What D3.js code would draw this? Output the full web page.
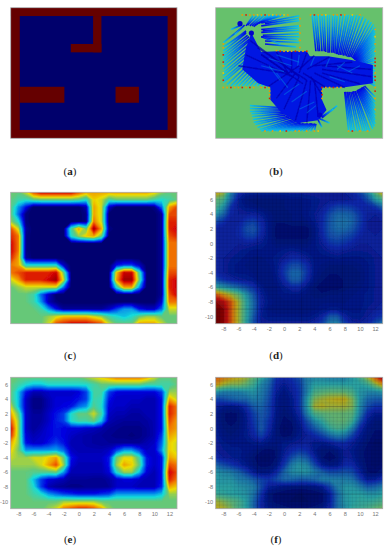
<!DOCTYPE html>
<html>
<head>
<meta charset="utf-8">
<script src="https://cdn.jsdelivr.net/npm/d3@7"></script>
<style>
body { margin: 0; background: #fff; }
svg { display: block; }
</style>
</head>
<body>
<script>
//tick labels of the axes under (d), (e), (f)
var xTicks = [-8, -6, -4, -2, 0, 2, 4, 6, 8, 10, 12];
var yTicks = [6, 4, 2, 0, -2, -4, -6, -8, -10];

//walls of the map in (a): x0, x1, y0, y1 in map units
var walls = [
    [-9, -7.8, -11, 7], [11.76, 13, -11, 7], [-9, 13, 5.85, 7], [-9, 13, -11, -9.85],
    [1.9, 3, 0.85, 5.85], [-1.05, 3, 0.85, 2],
    [-7.8, -1.9, -6.1, -3.9], [4.87, 7.96, -6.1, -3.9]
];

//(b) rays, outer end to inner end: x0, y0, x1, y1
var raysUpperLeft = [
    [2, 5.9, -3, 4.9], [2, 5.5, -2.5, 4.8], [2, 5.2, -3, 4.5], [2, 4.5, -3, 4], [2, 4.2, -2.8, 3.8], [2, 3.9, -3, 3.6], [2, 3.4, -2.8, 3.2], [2, 3, -3, 3], [1.8, 2.6, -2.5, 2.8], [2, 2.2, -2.5, 2.4], [1.6, 1.6, -2.5, 2], [-0.5, 2, -3, 3],
    [-4, 6, -5, 4.5], [-3.5, 6, -4.8, 4.6], [-3, 6, -4.5, 4.5], [-2.5, 6, -4.2, 4.5], [-2, 6, -4, 4.4], [-1.5, 6, -3.8, 4.6], [-1, 6, -3.6, 4.8], [-0.5, 6, -3.3, 4.9], [0, 6, -3, 5],
    [-8, 2.2, -5.6, 4.2], [-7.6, 1.8, -5, 3.8], [-8, 1.6, -5, 3.6], [-8, 1, -5, 3.5], [-8, 0.6, -4.8, 3.2], [-8, 0.2, -4.6, 3], [-8, -0.2, -4.5, 2.7], [-8, -0.6, -4.5, 2.5], [-8, -1, -4.2, 2.3], [-8, -1.5, -4, 2], [-8, -2, -3.8, 1.7], [-8, -2.4, -3.6, 1.5], [-8, -2.9, -3.4, 1.2], [-8, -3.3, -3.2, 1],
    [-7.5, -3.6, -3.1, 0.7], [-7, -3.8, -3, 0.5], [-6.5, -3.8, -2.8, 0.2], [-6, -3.8, -2.5, 0], [-5.5, -3.8, -2.3, -0.2], [-5, -3.8, -2, -0.5], [-4.5, -3.8, -1.8, -0.7], [-4, -3.8, -1.5, -1], [-3.5, -3.8, -1.2, -1.2], [-3, -3.8, -1, -1.5], [-2.5, -3.8, -0.8, -1.5], [-2, -3.8, -0.5, -1.5],
    [-6.5, 3.3, -5.2, 4.6], [-7, 4, -5.6, 4.6]
];
var raysUpperRight = [
    [3.7, 6, 4.2, 1], [4, 6, 4.5, 1], [4.3, 6, 4.7, 1], [4.7, 6, 5, 1], [5, 6, 5.3, 1], [5.3, 6, 5.5, 0.9], [5.7, 6, 5.8, 0.8], [6, 6, 6, 0.8], [6.4, 6, 6.3, 0.8], [6.7, 6, 6.5, 0.8], [7, 6, 6.7, 0.7], [7.4, 6, 6.9, 0.6], [7.8, 6, 7, 0.6], [8.2, 6, 7.2, 0.5], [8.5, 6, 7.4, 0.5], [8.9, 6, 7.6, 0.5], [9.2, 6, 7.8, 0.4], [9.6, 6, 8, 0.4], [10, 6, 8.2, 0.3],
    [10.4, 5.8, 8.4, 0.2], [10.8, 5.5, 8.6, 0.2], [11.2, 5.3, 8.8, 0.2], [11.5, 5, 9, 0.1], [11.8, 4.7, 9.1, 0], [12, 4.3, 9.2, 0], [12, 3.9, 9.2, -0.1], [12, 3.5, 9.3, -0.2], [12, 3.1, 9.4, -0.2], [12, 2.7, 9.5, -0.3], [12, 2.3, 9.5, -0.4], [12, 2, 9.5, -0.5], [12, 1.6, 9.6, -0.6], [12, 1.2, 9.6, -0.7], [12, 0.8, 9.6, -0.8], [12, 0.5, 9.7, -0.9],
    [12, 0.1, 9.7, -1], [12, -0.2, 9.7, -1.1], [12, -0.6, 9.7, -1.2], [12, -1, 9.8, -1.4], [12, -1.3, 9.8, -1.5], [12, -1.7, 9.8, -1.7], [12, -2, 9.9, -1.8], [12, -2.4, 10, -2], [12, -2.8, 10, -2.1], [12, -3.1, 10, -2.3], [12, -3.4, 10, -2.4], [12, -3.8, 10, -2.6]
];
var raysLowerRight = [
    [8.5, -10, 8, -4.6], [8.8, -10, 8.1, -4.6], [9, -10, 8.3, -4.6], [9.3, -10, 8.4, -4.6], [9.7, -10, 8.6, -4.6], [10, -10, 8.8, -4.6], [10.4, -10, 9, -4.6], [10.7, -10, 9.1, -4.5], [11, -10, 9.3, -4.5], [11.3, -10, 9.4, -4.5], [11.7, -9.7, 9.6, -4.4], [11.9, -9.4, 9.7, -4.3], [12, -9, 9.8, -4.3], [12, -8.5, 9.9, -4.2], [12, -8, 10, -4.2], [12, -7.5, 10.1, -4.1], [12, -7, 10.2, -4], [12, -6.5, 10.3, -4], [12, -6, 10.4, -3.9], [12, -5.3, 10.6, -3.8]
];
var raysBottom = [
    [-4.5, -6.5, 0, -6.8], [-4.5, -6.9, 0, -7], [-4.5, -7.3, 0, -7.2], [-4.3, -7.6, 0, -7.4], [-4.2, -8, 0, -7.6], [-4.1, -8.4, 0.2, -7.8], [-4, -8.8, 0.5, -8], [-3.8, -9.1, 0.7, -8.1], [-3.5, -9.5, 1, -8.2], [-3.2, -9.8, 1.2, -8.4], [-3, -10, 1.5, -8.5], [-2.5, -10, 1.8, -8.6], [-2, -10, 2, -8.8], [-1.5, -10, 2.2, -8.9], [-1, -10, 2.5, -9], [-0.5, -10, 2.7, -9], [0, -10, 3, -9], [0.5, -10, 3.2, -9], [1, -10, 3.5, -9], [1.5, -10, 3.6, -9],
    [2, -10, 3.7, -9], [2.5, -10, 3.8, -9], [3, -10, 4, -9], [3.5, -10, 4.1, -9], [4, -10, 4.2, -9], [5, -9.5, 4.5, -8.5], [6, -8.9, 4.5, -8.2], [7, -6.5, 5, -8.2], [6.5, -7, 5, -8]
];
var raysCore = [
    [-4.5, 2.5, 2, -2.5], [-3.5, 1.5, 3, -3], [-3, 0.5, 2.5, -3.5], [-5, 0.5, 1, -2.5], [-6, -1, 0, -2], [-2, -3.8, 2, -1], [-1, -5.5, 1.5, -2], [0, -7, 2, -2.5],
    [1.5, -8.5, 3, -3], [3, -8.8, 3.5, -3], [4.5, -8, 4, -3], [5, -5, 3.5, -2.5], [5.5, -4, 2.5, -2], [8, -4, 4, -2], [10, -3.5, 5, -2], [11.5, -2.5, 5, -1.5],
    [11.5, -1.5, 5, -1], [9, -0.5, 4, -1], [6, 0.2, 3, -1.5], [4, 0.4, 2, -1.5], [3, 0.8, 2, -2], [1, 0.9, 1, -2], [-1, 0.9, 0.5, -2], [-3, 0.6, 0.5, -2]
];
var raysCoreLight = [
    [-3, -1, 0, -1.8], [-2, 0, 1, -1], [-1, 0.5, 2, -0.5], [0, -5, 2, -3.5], [1, -6, 3, -4.5], [2, -7, 4, -6], [3, -7.5, 4.2, -6.5], [7, -1, 9, -2],
    [-1, -2, 0.5, -4], [-2, -1, -0.5, -3], [2, 0.5, 1.8, -1], [4, 0.2, 3.5, -1], [6, 0, 5.5, -1.2], [8, -0.5, 7, -1.5], [10, -1, 8.5, -1.8], [6, -2.5, 8, -3.2]
];
//(b) outline of the dense blue middle
var coreOutline = [
    [-4.3, 3.5], [-3, 0.9], [-1, 1], [3, 1], [3.4, 0.3], [5.8, 0.3], [8.9, -0.2], [11.7, -0.9], [11.7, -3.4], [7.8, -4], [5, -4], [5, -5.7], [5.6, -7.1], [4.5, -8.5], [1.9, -8.9],
    [-0.3, -7.5], [-1.8, -5.7], [-1.8, -4], [-3.4, -3.4], [-5.5, -1.5], [-5, 1.5]
];
var darkSpots = [[-5.8, 4.8], [-4.3, 3.5], [4.7, -7.8]];
//(b) boundary cells: x, y, value
var boundaryCells = [
    [-5.5, 6, 7], [-5, 6, 8.5], [-4.5, 6, 7], [-4, 6, 7], [-3.5, 6, 6.5], [-3, 6, 7], [-2.5, 6, 8.5], [-2, 6, 7], [-1.5, 6, 6.5], [-1, 6, 7], [-0.5, 6, 7], [0, 6, 6.5], [0.5, 6, 7],
    [3.5, 6, 7], [4, 6, 8.5], [4.5, 6, 7], [5, 6, 7], [5.5, 6, 6.5], [6.5, 6, 7], [7, 6, 7], [7.5, 6, 8.5], [8, 6, 7], [9, 6, 6.5], [10, 6, 7],
    [2.1, 5.5, 7], [2.1, 4.5, 7], [2.1, 3.5, 7], [2.1, 2.5, 7], [2.1, 1.5, 7],
    [-1, 1.1, 7], [-0.5, 1, 8.5], [0, 1, 7], [0.5, 1, 6.5], [1, 1, 7], [1.5, 1, 8.5], [2, 1, 7], [2.5, 1, 7], [3, 1, 8.5],
    [-8, 2, 7], [-8, 1.5, 7], [-8, 0.5, 8.5], [-8, -0.5, 8.5], [-8, -1, 7], [-8, -2, 6.5], [-8, -3, 8.5],
    [-8, -4, 7], [-7.5, -4, 7], [-7, -4, 8.5], [-6.5, -4, 7], [-6, -4, 7], [-5.5, -4, 8.5], [-5, -4, 7], [-4.5, -4, 8.5], [-4, -4, 7], [-3, -4, 7], [-2.5, -4, 8.5], [-2, -4, 7],
    [-1.9, -4.5, 7], [-1.9, -5, 7], [-1.9, -5.5, 8.5],
    [5, -4, 8.5], [5.5, -4, 7], [6, -4, 7], [6.5, -4, 8.5], [7, -4, 7], [7.5, -4, 7], [5, -4.5, 7], [5, -5, 8.5], [5, -5.5, 7],
    [12, 4, 7], [12, 3, 6.5], [12, 2, 7], [12, 1, 7], [12, 0, 8.5], [12, -0.5, 8.5], [12, -1, 8.5], [12, -2, 7], [12, -2.5, 8.5], [12, -3, 8.5], [12, -4, 7], [12, -4.5, 8.5], [12, -5.5, 7], [12, -7, 7],
    [-2.5, -10, 7], [-1.5, -10, 7], [-0.5, -10, 6.5], [0.3, -10, 8.5], [1.5, -10, 7], [2, -10, 7], [3, -10, 7], [4, -10, 7], [4.5, -10, 6.5], [8.5, -10, 7], [9, -10, 8.5], [10, -10, 7], [11, -10, 7]
];

//heat values on a grid of 23 columns (x -9 to 13) and 19 rows (y 7 to -11), 0 is navy and 10 maroon
var heatC = [
    [5,5,6,8,9,9,9,9,9,8,7,7,7,7,7,7,7,7,7,6.5,5.5,5,5],
    [5,4.5,4.2,4.8,5,5,5,5,5,4.8,4,6.5,6,4.5,5,5,5,5,5,4.5,4,4.5,5],
    [5,3,1.5,0,0,0,0,0,0,0,.8,7,6,1,0,0,0,0,0,.3,2.5,7,8],
    [5,2.5,.2,0,0,0,0,0,0,0,.3,7,6,0,0,0,0,0,0,0,.5,8,8],
    [5.5,4,.2,0,0,0,0,0,0,0,.3,7.5,6,0,0,0,0,0,0,0,.5,8.5,8.5],
    [8,6,.5,0,0,0,0,0,4.5,7,5,9.5,7,.3,0,0,0,0,0,0,.5,8.5,9],
    [8.5,7.5,.3,0,0,0,0,0,4,5.5,6.5,7,5,0,0,0,0,0,0,0,.5,8,8.5],
    [9,7.5,.3,0,0,0,0,0,0,0,0,0,0,0,0,0,0,0,0,0,.5,7.5,7.5],
    [9,7.5,.3,0,0,0,0,0,0,0,0,0,0,0,0,0,0,0,0,0,.5,7.5,7.5],
    [8.5,7,.5,0,0,0,0,0,0,0,0,0,0,0,0,0,0,0,0,0,.5,7.5,7.5],
    [7.5,7,4,4,4,4,4,1,0,0,0,0,0,0,1.5,2,2,1,0,0,.5,7.5,7.5],
    [7.5,8,8.5,8.5,8.5,8.5,9,5,0,0,0,0,0,0,6.5,9,9,4.5,0,0,.5,8,8],
    [6,7,8.5,8.5,8.5,9,9.5,6,0,0,0,0,0,0,7,9.5,9.5,5,0,0,.5,8.5,9],
    [5,5.5,6,6,6,6,6,2.5,0,0,0,0,0,0,4,7,7,3,0,0,.5,8.5,9],
    [5,5,5,4.5,2.5,1,0,0,0,0,0,0,0,0,0,0,0,0,0,0,.5,8,9],
    [5,5,5,4.5,3,.8,.2,0,0,0,0,0,0,0,0,0,0,0,0,0,1.2,7.5,7.5],
    [5,5,5,5,4.5,3,1.5,.5,.5,.5,.5,.5,.5,1,2,3,3,1.5,1,1,2.5,6,6],
    [5,5,5,5,5,5.5,6,6.5,6.5,6.5,6.5,6,5.5,4.5,4,3.5,4,5,5.5,5.5,5,5,5],
    [5,5,5,5,5,6,8,8.5,9,9,9,8.5,8,6,5,5,5,7,7,7,6,5,5]
];
var heatD = [
    [7,6,3,1.5,1,.9,.9,.9,.9,.9,1,1,1,1,1,1,1,1,1.2,1.8,3,5,7],
    [5,4.5,2.5,.9,.5,.4,.4,.4,.4,.5,.6,.6,.7,.8,.9,.9,.9,.9,1,1.3,2,3.5,4.5],
    [4.5,3.5,1.5,.9,.7,.6,.5,.4,.4,.5,.6,.6,.7,.8,1,1.4,1.8,1.8,1.6,1.3,1.2,1.5,2.5],
    [3.5,2.5,1.2,1,1,1.1,.9,.6,.4,.4,.5,.6,.7,.9,1.2,2,2.5,2.5,2.3,1.6,1.1,1,1.2],
    [2,1.5,1,1.1,1.6,1.8,1.3,.7,.4,.4,.5,.5,.6,.8,1.3,2.2,2.7,2.8,2.5,1.7,1,.9,1],
    [1,1,1,1.2,2,2.2,1.4,.7,.3,.3,.3,.3,.3,.6,1.3,2.2,2.6,2.6,2.2,1.5,1,.9,1],
    [1,1,1,1.2,1.7,1.8,1.2,.7,.3,.3,.3,.3,.3,.6,1.2,2,2.2,2,1.7,1.2,1,1,1],
    [1,1,1,1,1.1,1,.9,.7,.5,.5,.5,.5,.5,.7,1,1.5,1.7,1.5,1.2,1,1,1,1],
    [1,1,1,.9,.8,.7,.7,.7,.7,.8,.9,.8,.7,.7,.8,1,1.1,1,.9,.9,.9,1,1],
    [1,1,.9,.8,.7,.6,.6,.7,.8,1,1.3,1.3,1,.7,.7,.7,.8,.7,.7,.7,.8,.9,1],
    [1,1,.8,.7,.6,.6,.5,.6,.8,1.4,2,2,1.4,.7,.6,.5,.5,.5,.5,.6,.7,.9,1],
    [1.2,1,.8,.7,.7,.6,.5,.5,.8,1.6,2.5,2.5,1.6,.7,.5,.4,.4,.4,.4,.5,.7,.9,1],
    [2,1.5,1.2,1,.9,.8,.5,.5,.7,1.3,2.3,2.3,1.3,.6,.4,.3,.3,.4,.4,.5,.7,.9,1],
    [4,3.5,3,2.5,2,1.5,.8,.5,.6,.9,1.3,1.3,.8,.4,.3,.3,.3,.4,.5,.6,.7,.9,1],
    [8,7,6,5,3.5,2.2,1,.6,.6,.7,.7,.7,.6,.4,.4,.5,.5,.6,.6,.7,.8,.9,1],
    [9.5,9,8,6,4,2.5,1.1,.7,.6,.6,.6,.6,.6,.6,.6,.6,.6,.6,.7,.7,.8,.9,1],
    [10,9.5,8,6,4,2.5,1,.6,.5,.5,.5,.5,.5,.6,.7,.8,.8,.7,.7,.7,.9,1,1.2],
    [10,9.5,8,6,4,2.2,.9,.7,.7,.7,.7,.7,.7,.8,1.2,2.2,2.2,1.2,.8,.8,1,1.3,1.6],
    [10,9.5,8,6,3.8,2,1,1,1,1,1,1,1,1.2,1.8,3,3.2,1.8,1.1,1,1.2,2,3]
];
var heatE = [
    [5,5,5,5,5,5,5,5,5,5,5.5,6,6.5,7,7.5,7.5,7.5,7.5,7,6,5,5,5],
    [5,4.5,4,3.5,3.5,4,4,4,4,4,4,4.5,5,5,5,5,5,5,4.5,4.5,4.5,4.5,5],
    [5,3.5,1.5,.8,.8,1,1,1,1,1.2,2,4.5,4.5,2,1.3,1.2,1.2,1.2,1.2,1.2,2,5.5,5.5],
    [5,3.5,1,.3,.3,.8,1.2,1.2,1.2,1.5,2,4.5,4.2,1.5,1,1,1,1,.8,.8,1.5,7,6],
    [6,3.5,1,.3,.3,.8,1.2,1.3,1.5,2.5,3,4.8,4,1.2,1,1,.8,.8,.8,.8,1.5,8.5,7.5],
    [7,5,1,.5,.5,1,1.5,2,4,5,5,6,4.5,1,.8,.8,.6,.6,.8,.8,1.5,8.5,7.5],
    [8,5.5,1,.5,.6,1,1.6,2,4,4.5,4.5,5,3.5,.8,.6,.5,.5,.5,.6,.8,1.5,8,7],
    [9,5.5,1,.5,.8,1.2,1.5,1.3,1.2,1.2,1,.9,.7,.5,.4,.3,.3,.3,.5,.8,1.5,7.5,7],
    [8.5,5.5,1.2,.8,1,1.2,1.5,1.3,1,.8,.7,.6,.5,.4,.3,.3,.2,.3,.5,.8,2,7,6.5],
    [7,5.5,1.5,1,1,1.5,2,1.5,.8,.8,.7,.6,.5,.5,.5,.5,.5,.5,.8,1,2.5,6.5,6],
    [6.5,5.2,3,3,3,3,3.2,2.5,1,.8,.8,.8,.8,1,2,3,3,2,1,1,3,6.5,6],
    [6,5.5,5.5,6,6,6.5,7,5,1.5,1,1,1,1,1.5,5,6.2,6.2,4.5,1.5,1,1.5,7,6.5],
    [5.5,5.5,5.5,5.5,6,7,8,5.5,1.2,.8,.8,.8,.8,1.5,5.5,7,6.5,5,1.5,1,1.5,8,7.5],
    [5,5,5,4.8,4.8,4.8,5,3,.8,.8,.8,.8,.8,1.2,4,5.5,5.5,3.5,1.2,.8,1.5,9,8],
    [5,5,5,3.5,2,1.2,1,.8,.5,.5,.5,.4,.4,.6,1,1.2,1.2,1,.8,.8,1.5,8.5,7.5],
    [5,5,5,4,2,.8,.5,.4,.3,.3,.4,.4,.4,.5,1,1,1,.8,.8,.8,1.8,7,6.5],
    [5,5,5,4.5,4,3,2.5,2,1.8,1.5,1.5,1.5,1.8,2,3,3,3,3,3,3,3.5,5.5,5.5],
    [5,5,5,5,5,5,5,5.5,5.5,5.5,5.5,5.5,5,5,5,5,5,5,5,5,5,5,5],
    [5,5,5,5,5,5.5,6,7.5,8,8.5,8.5,8,7,5.5,5,5,5,5,5,5,5,5,5]
];
var heatF = [
    [8,7.5,7,6.5,6,5,4,3,1.5,1.2,1.5,2,3,3.2,3.2,3,3,3,3.5,4.5,6,8,9.5],
    [7,6,5.5,5.5,5,4.3,3.2,2.5,1.2,.9,1.2,1.7,3,3.8,3.8,3.8,3.8,3.8,3.8,3.8,4.2,5.5,7],
    [3.5,3,3,3,3.3,3.5,3,2.2,1,.6,1,1.5,3,4.5,4.8,5,5,5,4.5,3.5,3.2,3.2,3.5],
    [1.8,2,2.3,2.5,2.5,3,2.8,2,.8,.5,.8,1.5,3.5,5.5,6,6.3,6.5,6.5,5.5,3.5,2.5,2.3,2.3],
    [1,.8,.7,.8,1.4,2.3,2.5,1.8,.8,.5,.8,1.5,3.5,6,6.3,6,6,6,5.5,3.3,2,1.5,1.5],
    [.7,.4,.3,.4,.9,1.8,2.3,1.8,.7,.4,.6,1.2,3,4.5,4.8,5,5,5,4.8,3,1.3,.8,.8],
    [.7,.4,.3,.4,.8,1.6,2.2,1.5,.6,.3,.4,.9,2,3.2,4,4.8,5,5,4.3,2.2,.9,.5,.5],
    [.8,.5,.4,.5,.8,1.4,2.3,1.3,.5,.2,.3,.7,1.5,2.2,3,4,4.5,4.3,3,1.3,.6,.4,.4],
    [.9,.6,.5,.6,.8,1.2,1.8,1,.5,.3,.4,.8,1,1.3,1.8,2.5,3,2.8,1.8,.9,.5,.3,.3],
    [1,.8,.7,.7,.7,.8,.9,.7,.6,.8,.9,1,1.1,.8,.8,1,1.3,1.4,1,.7,.4,.2,.2],
    [1,.9,.8,.8,.7,.6,.4,.3,.4,.9,1.3,1.6,1.4,.8,.4,.4,.6,1,.8,.5,.3,.2,.2],
    [1.3,1,.9,.8,.6,.4,.2,.2,.4,1.1,2,2.6,2.2,1.2,.4,.2,.4,1,.9,.5,.3,.2,.2],
    [2.5,2,1.6,1.2,.8,.5,.3,.3,.6,1.6,3,3.5,3.2,2,.9,.6,.7,1.3,1.3,.7,.3,.2,.3],
    [3.5,3.2,3,2.5,1.8,1,.6,.7,1.3,2.5,3.3,3.5,3.5,3,2.5,2,2,2.2,2,1.1,.4,.3,.6],
    [3.5,3.5,3.5,3,2.8,2.3,1.8,1.5,2,2.5,2.5,2.3,2.3,2.5,3,3,3,3,2.8,1.8,.9,1,1.5],
    [3.8,3.8,3.8,3.5,3.3,3,2,1,.8,.6,.5,.5,.5,.6,.9,1.8,3,3.5,3.5,3,2.3,2.5,3],
    [4.2,4,3.8,3.7,3.5,2.8,1.5,.5,.3,.2,.2,.1,.2,.2,.3,1,2.5,3.5,3.8,3.8,3.5,3.5,3.8],
    [6,5.5,5,4.5,3.8,2.5,1.2,.5,.3,.2,.1,.1,.1,.2,.3,1,2.6,3.5,3.8,4,4,4.2,4.5],
    [6.5,6.2,5.5,4.5,3.8,2.5,1.2,.7,.6,.5,.4,.4,.4,.5,.7,1.2,2.6,3.3,4,4.2,4.5,5,5.5]
];

var jetStops = [0, 1.25, 2.5, 3.75, 5, 6.25, 7.5, 8.75, 10];
//jet colours, a bit muted like the print
var jet = d3.scaleLinear()
    .domain(jetStops)
    .range(["#000070", "#0000e0", "#0070ee", "#14dcdc", "#66c878", "#ecdc00", "#f07000", "#d80808", "#6e0000"]);
//(d) and (f) print darker and greyer under their mesh
var jetDull = d3.scaleLinear()
    .domain(jetStops)
    .range(["#000a60", "#0a28a8", "#1a68a8", "#2aa0a0", "#60b070", "#b0a820", "#d07010", "#b81010", "#600000"]);

var leftCol = [10.7, 177], rightCol = [215.7, 382.7];
var row1 = [7.7, 138.3], row2 = [192.3, 323.7], row3 = [377.3, 508.7];

var svg = d3.select("body").append("svg")
    .attr("width", 390)
    .attr("height", 550);
var defs = svg.append("defs");
defs.append("filter").attr("id", "soft").attr("x", "-5%").attr("y", "-5%").attr("width", "110%").attr("height", "110%")
    .append("feGaussianBlur").attr("stdDeviation", 0.7);
defs.append("filter").attr("id", "softer")
    .append("feGaussianBlur").attr("stdDeviation", 0.45);

//sets up one panel: scales, clip, group
function makePanel(name, xr, yr) {
    var x = d3.scaleLinear().domain([-9, 13]).range(xr);
    var y = d3.scaleLinear().domain([7, -11]).range(yr);
    defs.append("clipPath").attr("id", "clip" + name)
        .append("rect").attr("x", xr[0]).attr("y", yr[0]).attr("width", xr[1] - xr[0]).attr("height", yr[1] - yr[0]);
    var outer = svg.append("g").attr("clip-path", "url(#clip" + name + ")");
    return { x: x, y: y, g: outer.append("g"), outer: outer, name: name };
}

function border(p) {
    svg.append("rect")
        .attr("x", p.x.range()[0]).attr("y", p.y.range()[0])
        .attr("width", p.x.range()[1] - p.x.range()[0])
        .attr("height", p.y.range()[1] - p.y.range()[0])
        .attr("fill", "none").attr("stroke", "#aaa").attr("stroke-width", 0.8);
}

//filled contours of a heat grid
function drawHeat(p, rows, colours) {
    var contours = d3.contours()
        .size([rows[0].length, rows.length])
        .thresholds(d3.range(0, 10.01, 0.125))(rows.flat());
    //contour coordinates have the value of a cell at its centre
    var path = d3.geoPath(d3.geoTransform({
        point: function (cx, cy) { this.stream.point(p.x(cx - 9.5), p.y(7.5 - cy)); }
    }));
    p.g.attr("filter", "url(#soft)")
        .selectAll("path")
        .data(contours)
        .enter()
        .append("path")
        .attr("d", path)
        .attr("fill", function (d) { return colours(d.value); });
}

//thin dark mesh of the surface plots
function drawMesh(p) {
    var xs = d3.range(-9, 13.01, 0.5), ys = d3.range(-11, 7.01, 0.5);
    p.outer.selectAll("line.vm").data(xs).enter().append("line")
        .attr("x1", p.x).attr("x2", p.x).attr("y1", p.y(7)).attr("y2", p.y(-11))
        .attr("stroke", "#002").attr("stroke-opacity", 0.13).attr("stroke-width", 0.6);
    p.outer.selectAll("line.hm").data(ys).enter().append("line")
        .attr("y1", p.y).attr("y2", p.y).attr("x1", p.x(-9)).attr("x2", p.x(13))
        .attr("stroke", "#002").attr("stroke-opacity", 0.13).attr("stroke-width", 0.6);
    //a few lines that print darker
    p.outer.selectAll("line.dv").data([-3.5, 2.3, 7.7]).enter().append("line")
        .attr("x1", p.x).attr("x2", p.x).attr("y1", p.y(7)).attr("y2", p.y(-11))
        .attr("stroke", "#002").attr("stroke-opacity", 0.32).attr("stroke-width", 0.6);
    p.outer.selectAll("line.dh").data([3, -2, -6, -9]).enter().append("line")
        .attr("y1", p.y).attr("y2", p.y).attr("x1", p.x(-9)).attr("x2", p.x(13))
        .attr("stroke", "#002").attr("stroke-opacity", 0.25).attr("stroke-width", 0.6);
}

function drawAxes(p) {
    var ax = svg.append("g")
        .attr("transform", "translate(0," + (p.y.range()[1] + 1) + ")")
        .call(d3.axisBottom(p.x).tickValues(xTicks).tickSize(0).tickPadding(2).tickFormat(String));
    var ay = svg.append("g")
        .attr("transform", "translate(" + (p.x.range()[0] - 1) + ",0)")
        .call(d3.axisLeft(p.y).tickValues(yTicks).tickSize(0).tickPadding(1.5).tickFormat(String));
    [ax, ay].forEach(function (a) {
        a.select(".domain").remove();
        a.selectAll("text").attr("font-family", "Liberation Sans").attr("font-size", 5.6).attr("fill", "#777");
    });
}

function caption(letter, cx, cy) {
    var t = svg.append("text")
        .attr("x", cx).attr("y", cy)
        .attr("text-anchor", "middle")
        .attr("font-family", "Liberation Serif")
        .attr("font-size", 11)
        .attr("fill", "#222");
    t.append("tspan").text("(");
    t.append("tspan").attr("font-weight", "bold").text(letter);
    t.append("tspan").text(")");
}

//(a) the map
var pa = makePanel("a", leftCol, row1);
pa.g.append("rect")
    .attr("x", pa.x(-9)).attr("y", pa.y(7))
    .attr("width", pa.x(13) - pa.x(-9)).attr("height", pa.y(-11) - pa.y(7))
    .attr("fill", "#00006c");
pa.g.selectAll("rect.wall")
    .data(walls)
    .enter()
    .append("rect")
    .attr("class", "wall")
    .attr("x", function (d) { return pa.x(d[0]); })
    .attr("width", function (d) { return pa.x(d[1]) - pa.x(d[0]); })
    .attr("y", function (d) { return pa.y(d[3]); })
    .attr("height", function (d) { return pa.y(d[2]) - pa.y(d[3]); })
    .attr("fill", "#650000");
border(pa);

//(b) the ray field
var pb = makePanel("b", rightCol, row1);
pb.g.attr("filter", "url(#softer)");
pb.g.append("rect")
    .attr("x", pb.x(-9)).attr("y", pb.y(7))
    .attr("width", pb.x(13) - pb.x(-9)).attr("height", pb.y(-11) - pb.y(7))
    .attr("fill", "#66c16c");

//each ray fades from cyan at the wall to blue inside
var allRays = raysUpperLeft.concat(raysUpperRight, raysLowerRight, raysBottom);
allRays.forEach(function (d, i) {
    var grad = defs.append("linearGradient").attr("id", "ray" + i)
        .attr("gradientUnits", "userSpaceOnUse")
        .attr("x1", pb.x(d[0])).attr("y1", pb.y(d[1]))
        .attr("x2", pb.x(d[2])).attr("y2", pb.y(d[3]));
    grad.append("stop").attr("offset", 0).attr("stop-color", jet(3.5));
    grad.append("stop").attr("offset", 0.55).attr("stop-color", jet(2.4));
    grad.append("stop").attr("offset", 1).attr("stop-color", jet(1.3));
});
function rayLines(cls, data) {
    return pb.g.selectAll("line." + cls)
        .data(data)
        .enter()
        .append("line")
        .attr("class", cls)
        .attr("x1", function (d) { return pb.x(d[0]); })
        .attr("y1", function (d) { return pb.y(d[1]); })
        .attr("x2", function (d) { return pb.x(d[2]); })
        .attr("y2", function (d) { return pb.y(d[3]); });
}
rayLines("ray", allRays)
    .attr("stroke", function (d, i) { return "url(#ray" + i + ")"; })
    .attr("stroke-width", 1.6);
pb.g.append("path")
    .attr("d", d3.line().x(function (d) { return pb.x(d[0]); }).y(function (d) { return pb.y(d[1]); }).curve(d3.curveLinearClosed)(coreOutline))
    .attr("fill", jet(1.5));
rayLines("core", raysCore)
    .attr("stroke", jet(0.7))
    .attr("stroke-opacity", 0.7)
    .attr("stroke-width", 1.6);
rayLines("coreLight", raysCoreLight)
    .attr("stroke", jet(3))
    .attr("stroke-opacity", 0.4)
    .attr("stroke-width", 1.2);
pb.g.selectAll("circle")
    .data(darkSpots)
    .enter()
    .append("circle")
    .attr("cx", function (d) { return pb.x(d[0]); })
    .attr("cy", function (d) { return pb.y(d[1]); })
    .attr("r", 2.6)
    .attr("fill", jet(1));
pb.g.selectAll("rect.cell")
    .data(boundaryCells)
    .enter()
    .append("rect")
    .attr("class", "cell")
    .attr("x", function (d) { return pb.x(d[0]) - 0.8; })
    .attr("y", function (d) { return pb.y(d[1]) - 0.8; })
    .attr("width", 1.6)
    .attr("height", 1.6)
    .attr("fill", function (d) { return jet(d[2]); });
border(pb);

//(c) to (f) the heat maps
var pc = makePanel("c", leftCol, row2);
drawHeat(pc, heatC, jet);
border(pc);

var pd = makePanel("d", rightCol, row2);
drawHeat(pd, heatD, jetDull);
drawMesh(pd);
border(pd);
drawAxes(pd);

var pe = makePanel("e", leftCol, row3);
drawHeat(pe, heatE, jet);
border(pe);
drawAxes(pe);

var pf = makePanel("f", rightCol, row3);
drawHeat(pf, heatF, jetDull);
drawMesh(pf);
border(pf);
drawAxes(pf);

caption("a", 70, 175);
caption("b", 276, 175);
caption("c", 70, 359);
caption("d", 276, 359);
caption("e", 70, 543);
caption("f", 276, 543);
</script>
</body>
</html>
